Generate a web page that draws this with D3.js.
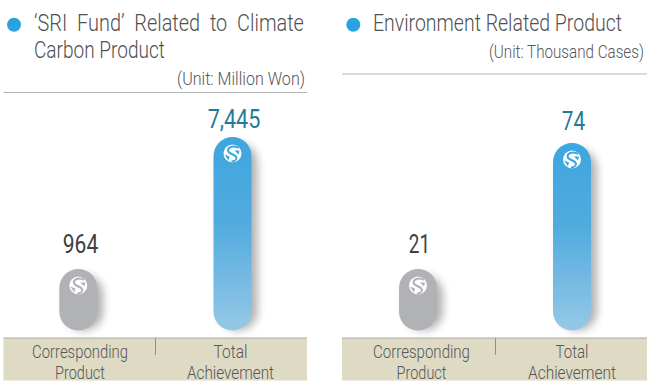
<!DOCTYPE html>
<html>
<head>
<meta charset="utf-8">
<script src="https://cdn.jsdelivr.net/npm/d3@7"></script>
<style>
  html, body { margin: 0; padding: 0; background: #fff; }
  svg { display: block; }
  text { font-family: "Roboto", sans-serif; font-weight: 300; }
</style>
</head>
<body>
<div id="chart"></div>
<script>
var categories = [['Corresponding', 'Product'], ['Total', 'Achievement']];
var sriValues = [964, 7445];
var envValues = [21, 74];
var sriLabels = ['964', '7,445'];
var envLabels = ['21', '74'];
var sriTitle = ['\u2018SRI Fund\u2019 Related to Climate', 'Carbon Product'];
var envTitle = ['Environment Related Product'];
var sriUnit = '(Unit: Million Won)';
var envUnit = '(Unit: Thousand Cases)';

var w = 647, h = 381;
var svg = d3.select('#chart').append('svg').attr('width', w).attr('height', h);
var defs = svg.append('defs');

var grad = defs.append('linearGradient').attr('id', 'blueGrad')
  .attr('x1', 0).attr('y1', 0).attr('x2', 0).attr('y2', 1);
grad.append('stop').attr('offset', '0%').attr('stop-color', '#3da6de');
grad.append('stop').attr('offset', '45%').attr('stop-color', '#52abdf');
grad.append('stop').attr('offset', '100%').attr('stop-color', '#96c8e6');

var shadow = defs.append('filter').attr('id', 'barShadow')
  .attr('x', '-50%').attr('y', '-20%').attr('width', '220%').attr('height', '140%');
shadow.append('feGaussianBlur').attr('stdDeviation', 4);

// The source face is condensed, so squeeze Roboto to each text's measured width
function label(g, str, x, y, size, fill, width, anchor, spacing) {
  var t = g.append('text')
    .attr('text-anchor', anchor || 'start')
    .attr('font-size', size).attr('fill', fill)
    .attr('word-spacing', spacing || 0)
    .text(str);
  var natural = t.node().getComputedTextLength();
  t.attr('transform', 'translate(' + x + ',' + y + ') scale(' + (width / natural) + ',1)');
  return t;
}

function drawLogo(g, cx, cy, fill) {
  var logo = g.append('g').attr('transform', 'translate(' + cx + ',' + cy + ')');
  logo.append('circle').attr('r', 9).attr('fill', '#fff');
  logo.append('path')
    .attr('d', 'M6,-5.5C2,-8 -4.5,-7 -4.5,-3C-4.5,1 4,0.5 4,4.5C4,6.5 1.5,8 -1,8')
    .attr('fill', 'none').attr('stroke', fill).attr('stroke-width', 2);
  logo.append('path').attr('d', 'M-8,1L-3,3L-4,7Z').attr('fill', fill);
  logo.append('path').attr('d', 'M2,-3L7,-3L6,1Z').attr('fill', fill);
}

function drawPanel(o) {
  var g = svg.append('g');

  // Heading
  g.append('circle').attr('cx', o.dotX).attr('cy', 24.7).attr('r', 7).attr('fill', '#29a3e0');
  o.title.forEach(function(line, i) {
    label(g, line, o.titleX, 31 + i * 27, 24, '#4f5052', o.titleW[i], 'start', i === 0 ? o.titleSpacing : 0);
  });
  label(g, o.unit, o.unitX, o.unitY, 17.5, '#55565a', o.unitW);
  g.append('line').attr('x1', o.x0).attr('x2', o.x1).attr('y1', o.ruleY).attr('y2', o.ruleY)
    .attr('stroke', '#b5b5b5').attr('stroke-width', 1);

  // Category band
  g.append('rect').attr('x', o.x0).attr('y', 338).attr('width', o.x1 - o.x0).attr('height', 42.5)
    .attr('fill', '#dedac3');
  g.append('line').attr('x1', o.x0).attr('x2', o.x1).attr('y1', 338).attr('y2', 338)
    .attr('stroke', '#a9a9a6').attr('stroke-width', 1);
  g.append('line').attr('x1', o.divX).attr('x2', o.divX)
    .attr('y1', 338).attr('y2', 355).attr('stroke', '#8e8e8a').attr('stroke-width', 1);

  // Bars: the source axis is not zero based, so map the two values to their drawn tops
  var y = d3.scaleLinear().domain(o.values).range(o.tops);
  var baseline = 330.5, barW = 38;

  categories.forEach(function(cat, i) {
    var cx = o.centers[i], top = y(o.values[i]);
    g.append('rect').attr('x', cx - barW / 2 + 6).attr('y', top + 6)
      .attr('width', barW).attr('height', baseline - top - 6)
      .attr('rx', barW / 2).attr('fill', '#000').attr('opacity', 0.3)
      .attr('filter', 'url(#barShadow)');
    g.append('rect').attr('x', cx - barW / 2).attr('y', top)
      .attr('width', barW).attr('height', baseline - top)
      .attr('rx', barW / 2)
      .attr('fill', i === 0 ? '#b1b2b6' : 'url(#blueGrad)');
    drawLogo(g, cx, top + 16.5, i === 0 ? '#b1b2b6' : '#3da6de');

    label(g, o.labels[i], o.valueX[i], o.valueY[i], 26, i === 0 ? '#3f4042' : '#1f7c99', o.valueW[i], 'middle')
      .style('font-weight', 400);

    cat.forEach(function(line, j) {
      label(g, line, o.catX[i], 358 + j * 21, 19, '#55565a', o.catW[i][j], 'middle');
    });
  });
}

drawPanel({
  x0: 3.5, x1: 307, divX: 155.5, dotX: 14, titleX: 34, titleSpacing: 6, titleW: [270, 131],
  title: sriTitle, unit: sriUnit, unitX: 177, unitY: 85, unitW: 128, ruleY: 92.5,
  values: sriValues, labels: sriLabels, tops: [269, 137],
  centers: [78.3, 232.5], valueX: [80.5, 234], valueY: [253, 128], valueW: [35, 52],
  catX: [80, 230.5], catW: [[96, 50], [34, 87]]
});
drawPanel({
  x0: 342, x1: 647, divX: 495.5, dotX: 353.3, titleX: 373, titleSpacing: 0, titleW: [249],
  title: envTitle, unit: envUnit, unitX: 489, unitY: 58, unitW: 155, ruleY: 74,
  values: envValues, labels: envLabels, tops: [269, 143],
  centers: [418, 572], valueX: [419.5, 573.5], valueY: [253, 130], valueW: [21, 23],
  catX: [421.5, 572], catW: [[97, 50], [33, 88]]
});
</script>
</body>
</html>
